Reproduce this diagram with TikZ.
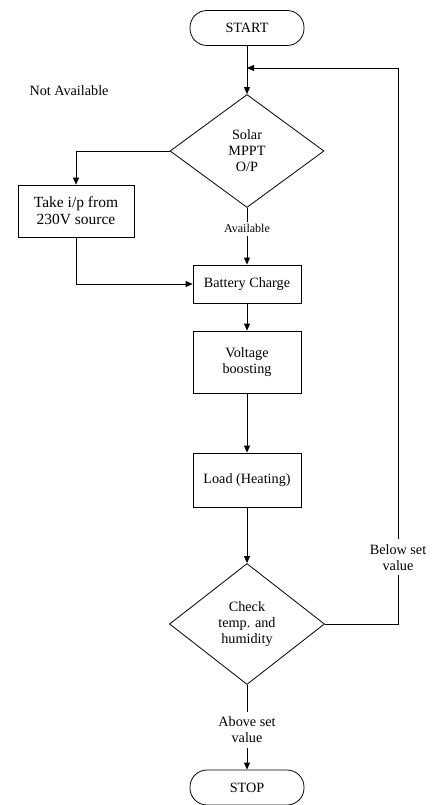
\documentclass[tikz,border=0pt]{standalone}
\usepackage{fontspec}
\setmainfont{Liberation Serif}
\usetikzlibrary{shapes.geometric, arrows.meta}
\tikzstyle{startstop} = [rectangle, rounded corners=17pt, minimum width=114pt, minimum height=35pt, text centered, draw=black]
\tikzstyle{process} = [rectangle, minimum width=108pt, align=center, text centered, draw=black]
\tikzstyle{decision} = [diamond, minimum width=154pt, align=center, inner sep=0pt, draw=black]
\tikzstyle{linelabel} = [fill=white, align=center, inner sep=5pt]
\tikzstyle{arrow} = [->,>={Triangle[length=7pt,width=6pt]}]

\begin{document}
\begin{tikzpicture}[x=1pt, y=1pt, line width=0.8pt, font=\fontsize{14.2pt}{16pt}\selectfont]
\useasboundingbox (0,0) rectangle (435,-805);

\node (start) [startstop] at (247,-28) {START};
\node (solar) [decision, below of=start, node distance=123pt, minimum height=113pt] {Solar\\MPPT\\O/P};
\node (take) [process, left of=solar, node distance=171pt, yshift=-60pt, minimum width=116pt, minimum height=52pt, font=\fontsize{15.5pt}{17pt}\selectfont] {Take i/p from\\230V source};
\node (notavail) [above of=take, node distance=120pt, xshift=-7pt] {Not Available};
\node (battery) [process, below of=solar, node distance=133pt, minimum height=38pt] {Battery Charge};
\node (boost) [process, below of=battery, node distance=78pt, minimum height=62pt] {Voltage\\boosting};
\node (load) [process, below of=boost, node distance=118pt, minimum height=54pt] {Load (Heating)};
\node (check) [decision, below of=load, node distance=144pt, minimum width=155pt, minimum height=121pt] {Check\\temp. and\\humidity};
\node (stop) [startstop, below of=check, node distance=163.5pt] {STOP};
\coordinate [below of=start, node distance=40pt] (join);
\coordinate [right of=join, node distance=151pt] (corner);

\draw [arrow] (start) -- (solar);
\draw [arrow] (solar.west) -| (take.north);
\draw [arrow] (solar.south) -- node [linelabel, pos=0.37, inner sep=3pt, font=\fontsize{12pt}{12pt}\selectfont] {Available} (battery.north);
\draw [arrow] (take.south) |- (battery.west);
\draw [arrow] (battery) -- (boost);
\draw [arrow] (boost) -- (load);
\draw [arrow] (load) -- (check);
\draw [arrow] (check.south) -- node [linelabel, pos=0.53] {Above set\\value} (stop.north);
\draw [arrow] (check.east) -| node [linelabel, pos=0.56] {Below set\\value} (corner) -- (join);

\end{tikzpicture}
\end{document}
